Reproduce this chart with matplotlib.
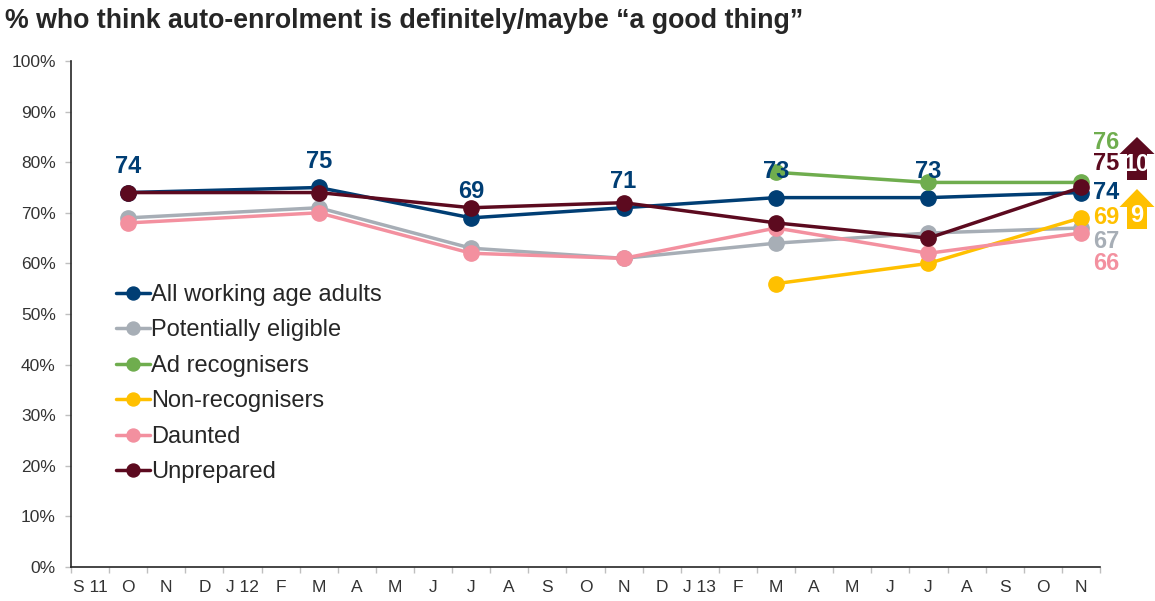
import matplotlib
matplotlib.use("Agg")
import matplotlib.pyplot as plt
from matplotlib.patches import Polygon

plt.rcParams['font.family'] = ['Liberation Sans', 'DejaVu Sans']

# Monthly axis, September 2011 to November 2013
months = ["S 11", "O", "N", "D", "J 12", "F", "M", "A", "M", "J", "J", "A", "S", "O",
          "N", "D", "J 13", "F", "M", "A", "M", "J", "J", "A", "S", "O", "N"]

# Survey waves (index into months): Oct 11, Mar 12, Jul 12, Nov 12, Mar 13, Jul 13, Nov 13
waves_all = [1, 6, 10, 14, 18, 22, 26]
waves_recent = [18, 22, 26]

all_adults = [74, 75, 69, 71, 73, 73, 74]
potentially_eligible = [69, 71, 63, 61, 64, 66, 67]
ad_recognisers = [78, 76, 76]
non_recognisers = [56, 60, 69]
daunted = [68, 70, 62, 61, 67, 62, 66]
unprepared = [74, 74, 71, 72, 68, 65, 75]

series = [
    ("All working age adults", waves_all, all_adults, "#003E74"),
    ("Potentially eligible", waves_all, potentially_eligible, "#A7AEB6"),
    ("Ad recognisers", waves_recent, ad_recognisers, "#6FAD4E"),
    ("Non-recognisers", waves_recent, non_recognisers, "#FFC000"),
    ("Daunted", waves_all, daunted, "#F3909F"),
    ("Unprepared", waves_all, unprepared, "#5C0A1F"),
]

# vertical nudges (points) for the end-of-line labels so they don't collide
end_nudge = {
    "All working age adults": 0,
    "Potentially eligible": -10,
    "Ad recognisers": 29,
    "Non-recognisers": 0,
    "Daunted": -22,
    "Unprepared": 17,
}

W, H = 1155, 601
fig = plt.figure(figsize=(W / 100, H / 100), dpi=100)
ax = fig.add_axes([71 / W, 1 - 567 / H, (1100 - 71) / W, (567 - 61) / H])

for name, xs, ys, col in series:
    ax.plot(xs, ys, color=col, lw=2.5, marker="o", ms=11, label=name,
            solid_capstyle="round", zorder=3)

navy = series[0][3]
# values above each wave for the headline series (except the final one)
for x, v in zip(waves_all[:-1], all_adults[:-1]):
    ax.annotate(f"{v}", (x, v), xytext=(0, 19), textcoords="offset points",
                ha="center", va="center", fontsize=17, fontweight="bold",
                color=navy, zorder=5)

# final-wave values at the right end of each line
for name, xs, ys, col in series:
    ax.annotate(f"{ys[-1]}", (xs[-1], ys[-1]), xytext=(9, end_nudge[name]),
                textcoords="offset points", ha="left", va="center",
                fontsize=17, fontweight="bold", color=col, zorder=5,
                annotation_clip=False)


def up_arrow(cx, top, bottom, head_w, shaft_w, head_h, color, text):
    """Block arrow in figure pixel coordinates with a number in the shaft."""
    pts = [(cx, top), (cx + head_w / 2, top + head_h), (cx + shaft_w / 2, top + head_h),
           (cx + shaft_w / 2, bottom), (cx - shaft_w / 2, bottom),
           (cx - shaft_w / 2, top + head_h), (cx - head_w / 2, top + head_h)]
    pts = [(px / W, 1 - py / H) for px, py in pts]
    fig.patches.append(Polygon(pts, closed=True, transform=fig.transFigure,
                               facecolor=color, edgecolor="none", zorder=4))
    fig.text(cx / W, 1 - (top + head_h + bottom) / 2 / H + 0.004, text,
             ha="center", va="center", fontsize=17, fontweight="bold",
             color="white", zorder=6)


# change since the previous wave
up_arrow(1137, 137, 180, 35, 20, 17, series[5][3], f"{unprepared[-1] - unprepared[-2]}")
up_arrow(1137, 189, 229, 35, 20, 18, series[3][3], f"{non_recognisers[-1] - non_recognisers[-2]}")

ax.set_xlim(-0.5, len(months) - 0.5)
ax.set_ylim(0, 100)
ax.set_xticks(range(len(months)))
ax.set_xticklabels(months)
ax.set_xticks([i - 0.5 for i in range(len(months) + 1)], minor=True)
ax.tick_params(axis="x", which="major", length=0, pad=9, labelsize=12.5, labelcolor="#333333")
ax.tick_params(axis="x", which="minor", length=4, color="#BFBFBF", width=1)
ax.set_yticks(range(0, 101, 10))
ax.set_yticklabels([f"{v}%" for v in range(0, 101, 10)])
ax.tick_params(axis="y", length=4, color="#BFBFBF", width=1, pad=7, labelsize=12.5,
               labelcolor="#333333")

for side in ("top", "right"):
    ax.spines[side].set_visible(False)
for side in ("left", "bottom"):
    ax.spines[side].set_color("#262626")
    ax.spines[side].set_linewidth(1.2)

leg = ax.legend(loc="upper left", bbox_to_anchor=(0.035, 0.578), frameon=False,
                fontsize=17, handlelength=1.4, handletextpad=0.05,
                labelspacing=0.57, borderaxespad=0, markerscale=0.85)
for t in leg.get_texts():
    t.set_color("#262626")

fig.text(5 / W, 1 - 21 / H, "% who think auto-enrolment is definitely/maybe \u201ca good thing\u201d",
         ha="left", va="center", fontsize=19.3, fontweight="bold", color="#262626")

fig.savefig("out.png", dpi=100)
